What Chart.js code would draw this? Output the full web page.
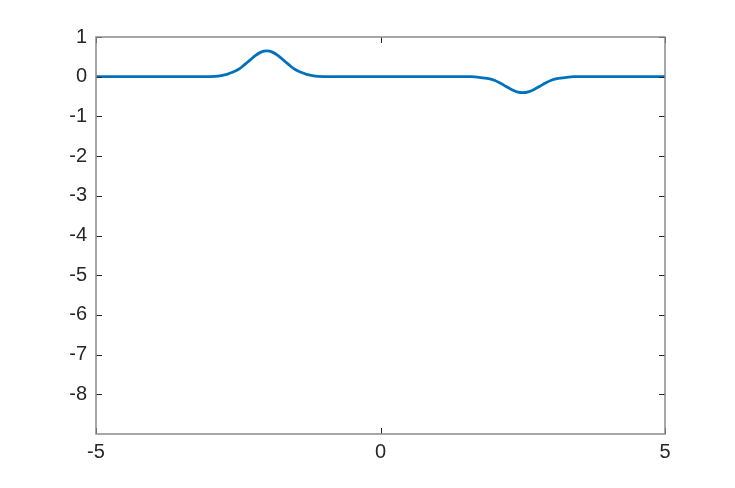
<!DOCTYPE html>
<html>
<head>
<meta charset="utf-8">
<script src="https://cdn.jsdelivr.net/npm/chart.js@4"></script>
<style>
  body { margin: 0; background: #fff; }
</style>
</head>
<body>
<canvas id="myChart" width="735" height="488"></canvas>
<script>
// values
var xValues = [-5, -3.1, -2.9, -2.8, -2.7, -2.6, -2.5, -2.4, -2.3, -2.2, -2.1, -2.0, -1.9, -1.8, -1.7, -1.6, -1.5, -1.4, -1.3, -1.2, -1.1, -0.9,
               1.6, 1.7, 1.8, 1.9, 2.0, 2.1, 2.2, 2.3, 2.4, 2.5, 2.6, 2.7, 2.8, 2.9, 3.0, 3.1, 3.2, 3.3, 3.4, 5];
var yValues = [0, 0, 0.01, 0.03, 0.06, 0.11, 0.18, 0.29, 0.41, 0.53, 0.62, 0.65, 0.62, 0.53, 0.41, 0.29, 0.18, 0.11, 0.06, 0.03, 0.01, 0,
               0, -0.01, -0.03, -0.05, -0.09, -0.16, -0.24, -0.32, -0.38, -0.4, -0.38, -0.32, -0.24, -0.16, -0.09, -0.05, -0.03, -0.01, 0, 0];
var xTicks = [-5, 0, 5];
var yTicks = [1, 0, -1, -2, -3, -4, -5, -6, -7, -8];

const boxPlugin = {
  id: 'box',
  afterDraw(chart) {
    const ctx = chart.ctx;
    const a = chart.chartArea;
    const xs = chart.scales.x, ys = chart.scales.y;
    ctx.save();
    ctx.strokeStyle = '#262626';
    ctx.lineWidth = 1;
    ctx.beginPath();
    xTicks.forEach(v => {
      const p = Math.round(xs.getPixelForValue(v)) + 0.5;
      ctx.moveTo(p, a.bottom); ctx.lineTo(p, a.bottom - 6);
      ctx.moveTo(p, a.top); ctx.lineTo(p, a.top + 6);
    });
    yTicks.forEach(v => {
      const p = Math.round(ys.getPixelForValue(v)) + 0.5;
      ctx.moveTo(a.left, p); ctx.lineTo(a.left + 6, p);
      ctx.moveTo(a.right, p); ctx.lineTo(a.right - 6, p);
    });
    ctx.stroke();
    ctx.strokeStyle = '#8a8a8a';
    ctx.lineWidth = 1.5;
    ctx.strokeRect(a.left, a.top, a.right - a.left, a.bottom - a.top);
    ctx.restore();
  }
};

const tickFont = { family: "'Liberation Sans', Helvetica, Arial, sans-serif", size: 20 };

const config = {
  type: 'line',
  data: {
    datasets: [{
      data: xValues.map((x, i) => ({ x, y: yValues[i] })),
      borderColor: '#0072BD',
      borderWidth: 2.8,
      pointRadius: 0,
      cubicInterpolationMode: 'monotone',
      fill: false
    }]
  },
  options: {
    responsive: false,
    animation: false,
    layout: { padding: { left: 0, top: 37, right: 70, bottom: 0 } },
    plugins: { legend: { display: false }, tooltip: { enabled: false } },
    scales: {
      x: {
        type: 'linear',
        min: -5, max: 5,
        afterBuildTicks: s => { s.ticks = xTicks.map(v => ({ value: v })); },
        afterFit: s => { s.height = 54; },
        grid: { display: false, drawTicks: false },
        border: { display: false },
        ticks: {
          padding: 6,
          color: '#262626',
          font: tickFont,
          callback: v => String(v)
        }
      },
      y: {
        type: 'linear',
        min: -9, max: 1,
        afterBuildTicks: s => { s.ticks = yTicks.map(v => ({ value: v })); },
        afterFit: s => { s.width = 96; },
        grid: { display: false, drawTicks: false },
        border: { display: false },
        ticks: {
          padding: 9,
          color: '#262626',
          font: tickFont,
          callback: v => String(v)
        }
      }
    }
  },
  plugins: [boxPlugin]
};

document.addEventListener('DOMContentLoaded', () => {
  new Chart(document.getElementById('myChart'), config);
});
</script>
</body>
</html>
